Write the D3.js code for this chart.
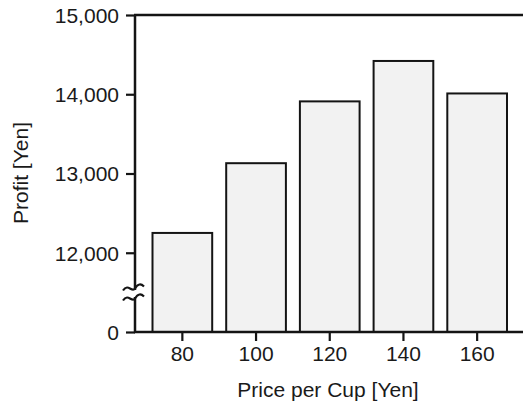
<!DOCTYPE html>
<html>
<head>
<meta charset="utf-8">
<script src="https://cdn.jsdelivr.net/npm/d3@7"></script>
<style>
  body { margin: 0; background: #fff; }
  text { font-family: "Liberation Sans", Arial, sans-serif; fill: #1a1a1a; }
</style>
</head>
<body>
<div class="chart"></div>
<script>
// data
var prices = ["80", "100", "120", "140", "160"];
var profits = [12250, 13130, 13910, 14420, 14010];
var yTicks = [11000, 12000, 13000, 14000, 15000];
var yTickLabels = ["0", "12,000", "13,000", "14,000", "15,000"];

var width = 523;
var height = 407;
var plotLeft = 135, plotTop = 15, plotBottom = 332, plotRight = 523;

var svg = d3.select(".chart").append("svg")
    .attr("width", width)
    .attr("height", height);

// the axis is broken: bottom of the plot stands for 0, but the scale starts at 11,000
var x = d3.scaleBand()
    .domain(prices)
    .range([145.5, 514])
    .paddingInner(0.19)
    .paddingOuter(0.095);

var y = d3.scaleLinear()
    .domain([11000, 15000])
    .range([plotBottom, plotTop]);

svg.selectAll("rect.bar")
    .data(profits)
    .enter()
    .append("rect")
    .attr("class", "bar")
    .attr("x", function(d, i) { return x(prices[i]); })
    .attr("y", function(d) { return y(d); })
    .attr("width", x.bandwidth())
    .attr("height", function(d) { return plotBottom - y(d); })
    .attr("fill", "#f2f2f2")
    .attr("stroke", "#141414")
    .attr("stroke-width", 2);

// left axis
var yAxis = d3.axisLeft(y)
    .tickValues(yTicks)
    .tickFormat(function(d, i) { return yTickLabels[i]; })
    .tickSize(9)
    .tickPadding(7);

var gy = svg.append("g")
    .attr("transform", "translate(" + plotLeft + ",0)")
    .call(yAxis);
gy.select(".domain").remove();
gy.selectAll("line").attr("stroke", "#141414").attr("stroke-width", 2.2);
gy.selectAll("text")
    .style("font-size", "21px")
    .attr("dy", "0.35em");

// bottom axis
var xAxis = d3.axisBottom(x)
    .tickSize(9)
    .tickPadding(5);

var gx = svg.append("g")
    .attr("transform", "translate(0," + plotBottom + ")")
    .call(xAxis);
gx.select(".domain").remove();
gx.selectAll("line").attr("stroke", "#141414").attr("stroke-width", 2.2);
gx.selectAll("text").style("font-size", "21px");

// frame lines: left, bottom and top
svg.append("line")
    .attr("x1", plotLeft).attr("y1", plotTop)
    .attr("x2", plotLeft).attr("y2", plotBottom)
    .attr("stroke", "#141414").attr("stroke-width", 2.5);
svg.append("line")
    .attr("x1", plotLeft - 1).attr("y1", plotBottom)
    .attr("x2", plotRight).attr("y2", plotBottom)
    .attr("stroke", "#141414").attr("stroke-width", 2.5);
svg.append("line")
    .attr("x1", plotLeft - 1).attr("y1", plotTop)
    .attr("x2", plotRight).attr("y2", plotTop)
    .attr("stroke", "#141414").attr("stroke-width", 2.5);

// break mark on the y axis
var by = 293.5;
svg.append("rect")
    .attr("x", plotLeft - 8).attr("y", by - 3.5)
    .attr("width", 16).attr("height", 7)
    .attr("fill", "#fff");
[by - 5, by + 5].forEach(function(yy) {
    svg.append("path")
        .attr("d", "M" + (plotLeft - 12) + "," + (yy + 2) +
            " C" + (plotLeft - 7) + "," + (yy - 6) + " " + (plotLeft - 3) + "," + (yy + 5) + " " + plotLeft + "," + yy +
            " S" + (plotLeft + 6) + "," + (yy - 5) + " " + (plotLeft + 9) + "," + (yy - 2))
        .attr("fill", "none")
        .attr("stroke", "#141414")
        .attr("stroke-width", 2.2);
});

// axis titles
svg.append("text")
    .attr("x", 328)
    .attr("y", 397)
    .attr("text-anchor", "middle")
    .style("font-size", "21px")
    .text("Price per Cup [Yen]");

svg.append("text")
    .attr("transform", "translate(28,173) rotate(-90)")
    .attr("text-anchor", "middle")
    .style("font-size", "21px")
    .text("Profit [Yen]");
</script>
</body>
</html>
